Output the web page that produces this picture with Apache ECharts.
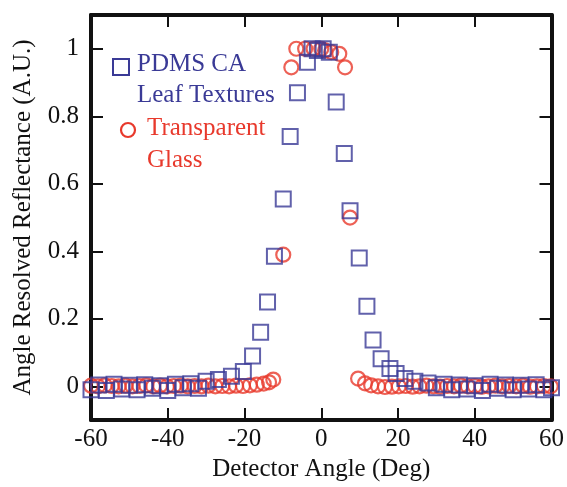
<!DOCTYPE html>
<html>
<head>
<meta charset="utf-8">
<style>
  html, body { margin: 0; padding: 0; background: #fff; }
  #chart { width: 567px; height: 487px; }
</style>
</head>
<body>
<div id="chart"></div>
<script src="https://cdn.jsdelivr.net/npm/echarts@6/dist/echarts.min.js"></script>
<script type="text/javascript">
// PDMS CA leaf textures (blue squares)
var leafX = [-60, -58, -56, -54, -52, -50, -48, -46, -44, -42, -40, -38, -36, -34, -32, -30, -26.8, -23.4, -20.3,
             -17.9, -15.8, -14, -12.2, -9.9, -8.1, -6.2, -3.6, -2.4, -1, 0.5, 2.1,
             3.9, 6, 7.5, 9.9, 11.9, 13.5, 15.6, 17.9, 19.5, 21.8, 24.4, 27.8,
             30, 32, 34, 36, 38, 40, 42, 44, 46, 48, 50, 52, 54, 56, 58, 60];
var leafY = [-0.01, 0.004, -0.012, 0.006, -0.008, 0.003, -0.01, 0.005, -0.006, 0.002, -0.012, 0.006, -0.004, 0.008, -0.006, 0.015, 0.02, 0.03, 0.044,
             0.09, 0.16, 0.25, 0.385, 0.555, 0.74, 0.87, 0.96, 1.0, 0.995, 1.0, 0.99,
             0.842, 0.69, 0.52, 0.38, 0.237, 0.137, 0.082, 0.053, 0.038, 0.023, 0.015, 0.01,
             -0.004, 0.006, -0.01, 0.004, -0.008, 0.002, -0.012, 0.006, -0.006, 0.004, -0.01, 0.003, -0.008, 0.005, -0.01, -0.004];

// transparent glass (red circles)
var glassX = [-60, -58.2, -56.4, -54.6, -52.8, -51, -49.2, -47.4, -45.6, -43.8, -42, -40.2, -38.4, -36.6, -34.8,
              -33, -31.2, -29.4, -27.6, -25.8, -24, -22.2, -20.4, -18.6, -16.8, -15, -13.6, -12.5,
              -9.9, -7.8, -6.5, -4.2, -2, 0, 1, 2.6, 4.7, 6.2, 7.5,
              9.6, 11.4, 13, 14.8, 16.6, 18.4, 20.2, 22, 23.8, 25.6, 27.4, 29.2, 31, 32.8, 34.6, 36.4,
              38.2, 40, 41.8, 43.6, 45.4, 47.2, 49, 50.8, 52.6, 54.4, 56.2, 58, 59.8];
var glassY = [0.002, 0, 0.003, 0.001, 0, 0.002, 0, 0.001, 0.003, 0, 0.002, 0, 0.001, 0.002, 0,
              0.001, 0, 0.002, 0, 0.001, 0, 0.002, 0.001, 0.003, 0.005, 0.008, 0.012, 0.02,
              0.39, 0.945, 1.0, 1.0, 1.0, 1.0, 0.995, 0.99, 0.985, 0.945, 0.5,
              0.023, 0.009, 0.003, 0, -0.002, -0.001, 0, 0.001, -0.001, 0, 0.002, 0, -0.001, 0.001, 0, 0.002,
              0, 0.001, -0.001, 0, 0.002, 0, 0.001, 0, 0.002, -0.001, 0, 0.001, 0];

var xTicks = [-60, -40, -20, 0, 20, 40, 60];
var yTicks = [0, 0.2, 0.4, 0.6, 0.8, 1];

var blue = '#3a3a96';
var red = '#e8392c';
var ink = '#111';
var font = 'Liberation Serif';

function pairs(xs, ys) {
    return xs.map(function (x, i) { return [x, ys[i]]; });
}

var myChart = echarts.init(document.getElementById('chart'));

var frameX = {
    type: 'value', min: -60, max: 60, interval: 20,
    axisLine: { show: true, onZero: false, lineStyle: { color: ink, width: 4 } },
    axisTick: { show: true, inside: true, length: 12, lineStyle: { color: ink, width: 2 } },
    splitLine: { show: false }
};
var frameY = {
    type: 'value', min: -0.1, max: 1.1,
    axisLine: { show: true, onZero: false, lineStyle: { color: ink, width: 4 } },
    axisTick: { show: true, inside: true, length: 12, customValues: yTicks, lineStyle: { color: ink, width: 2 } },
    splitLine: { show: false }
};

var option = {
    animation: false,
    grid: { left: 91, right: 14, top: 15, bottom: 63 },
    xAxis: [
        Object.assign({}, frameX, {
            position: 'bottom',
            name: 'Detector Angle (Deg)', nameLocation: 'middle', nameGap: 36,
            nameTextStyle: { fontFamily: font, fontSize: 25, color: ink },
            axisLabel: { margin: 7, fontFamily: font, fontSize: 25, color: ink,
                         formatter: function (v) { return xTicks.indexOf(v) >= 0 ? String(v) : ''; } }
        }),
        Object.assign({}, frameX, { position: 'top', axisLabel: { show: false } })
    ],
    yAxis: [
        Object.assign({}, frameY, {
            position: 'left',
            name: 'Angle Resolved Reflectance (A.U.)', nameLocation: 'middle', nameGap: 55,
            nameTextStyle: { fontFamily: font, fontSize: 25, color: ink },
            axisLabel: { margin: 12, fontFamily: font, fontSize: 25, color: ink, customValues: yTicks,
                         formatter: function (v) { return String(Math.round(v * 10) / 10); } }
        }),
        Object.assign({}, frameY, { position: 'right', axisLabel: { show: false } })
    ],
    graphic: [
        { type: 'rect', shape: { x: 113, y: 59, width: 16, height: 16 },
          style: { fill: 'none', stroke: blue, lineWidth: 2 } },
        { type: 'text', x: 137, y: 64, style: { text: 'PDMS CA', font: '25px "Liberation Serif"', fill: blue, verticalAlign: 'middle' } },
        { type: 'text', x: 137, y: 95, style: { text: 'Leaf Textures', font: '25px "Liberation Serif"', fill: blue, verticalAlign: 'middle' } },
        { type: 'circle', shape: { cx: 128, cy: 130, r: 7 },
          style: { fill: 'none', stroke: red, lineWidth: 2.2 } },
        { type: 'text', x: 147, y: 128, style: { text: 'Transparent', font: '25px "Liberation Serif"', fill: red, verticalAlign: 'middle' } },
        { type: 'text', x: 147, y: 160, style: { text: 'Glass', font: '25px "Liberation Serif"', fill: red, verticalAlign: 'middle' } }
    ],
    series: [
        {
            name: 'Transparent Glass',
            type: 'scatter',
            symbol: 'circle',
            symbolSize: 14,
            itemStyle: { color: 'rgba(0,0,0,0)', borderColor: red, borderWidth: 2.2 },
            data: pairs(glassX, glassY)
        },
        {
            name: 'PDMS CA Leaf Textures',
            type: 'scatter',
            symbol: 'rect',
            symbolSize: 15,
            itemStyle: { color: 'rgba(0,0,0,0)', borderColor: blue, borderWidth: 2 },
            data: pairs(leafX, leafY)
        }
    ]
};
myChart.setOption(option);
</script>
</body>
</html>
